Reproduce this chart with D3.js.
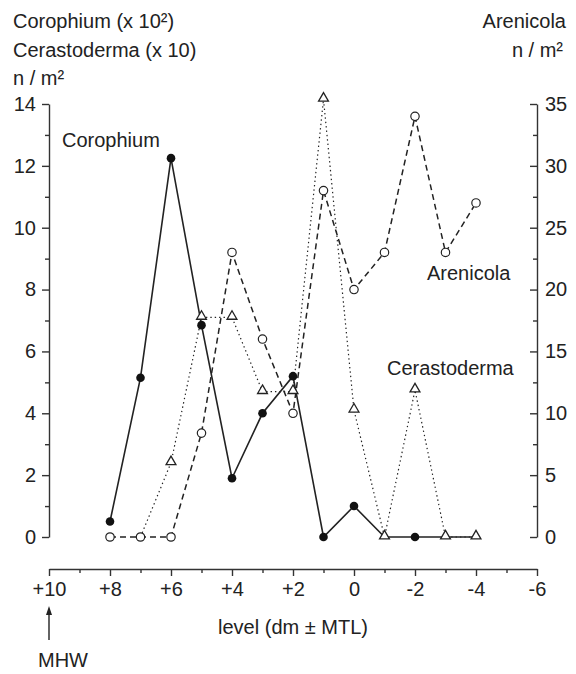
<!DOCTYPE html>
<html lang="en">
  <head>
    <meta charset="UTF-8" />
    <title>Corophium, Cerastoderma and Arenicola along the shore</title>
    <script src="https://d3js.org/d3.v7.min.js"></script>
    <style>
      body {
        margin: 0;
        background: #fff;
      }
      svg text {
        font-family: "Liberation Sans", Arial, Helvetica, sans-serif;
        font-size: 20px;
        fill: #222;
      }
      .axis path,
      .axis line {
        stroke: #333;
        stroke-width: 1.4px;
      }
      .axis text {
        font-size: 20px;
      }
    </style>
  </head>
  <body>
    <svg width="576" height="674"></svg>

    <script>
      // level in dm relative to mean tide level
      const levels = [8, 7, 6, 5, 4, 3, 2, 1, 0, -1, -2, -3, -4];
      // left axis: Corophium (x 100) and Cerastoderma (x 10), n/m2
      const corophium = [0.5, 5.15, 12.25, 6.85, 1.9, 4.0, 5.2, 0, 1.0, 0, 0, 0, 0];
      const cerastoderma = [null, 0, 2.4, 7.1, 7.1, 4.7, 4.7, 14.15, 4.1, 0, 4.75, 0, 0];
      // right axis: Arenicola, n/m2
      const arenicola = [0, 0, 0, 8.4, 23, 16, 10, 28, 20, 23, 34, 23, 27];

      const xTicks = [10, 8, 6, 4, 2, 0, -2, -4, -6];
      const leftTicks = [0, 2, 4, 6, 8, 10, 12, 14];
      const rightTicks = [0, 5, 10, 15, 20, 25, 30, 35];

      const svg = d3.select("svg");

      const x = d3.scaleLinear().domain([10, -6]).range([49, 537]);
      const yL = d3.scaleLinear().domain([0, 14]).range([537, 104]);
      const yR = d3.scaleLinear().domain([0, 35]).range([537, 104]);

      const fmtLevel = (d) => (d > 0 ? "+" + d : String(d));

      // x axis, drawn a bit below the plot
      const xAxisG = svg
        .append("g")
        .attr("class", "axis")
        .attr("transform", "translate(0,569)");
      xAxisG.call(
        d3
          .axisBottom(x)
          .tickValues(xTicks)
          .tickFormat(fmtLevel)
          .tickSize(7)
          .tickSizeOuter(0)
          .tickPadding(6)
      );
      xAxisG
        .append("g")
        .call(
          d3
            .axisBottom(x)
            .tickValues(d3.range(9, -6, -2))
            .tickFormat("")
            .tickSize(4)
        )
        .select(".domain")
        .remove();

      // left axis
      const leftG = svg
        .append("g")
        .attr("class", "axis")
        .attr("transform", "translate(49,0)");
      leftG.call(
        d3
          .axisLeft(yL)
          .tickValues(leftTicks)
          .tickSize(7)
          .tickSizeOuter(0)
          .tickPadding(6)
      );
      leftG
        .append("g")
        .call(
          d3
            .axisLeft(yL)
            .tickValues(d3.range(1, 14, 2))
            .tickFormat("")
            .tickSize(4)
        )
        .select(".domain")
        .remove();

      // right axis, ticks pointing inwards
      const rightG = svg
        .append("g")
        .attr("class", "axis")
        .attr("transform", "translate(537,0)");
      rightG.call(
        d3
          .axisRight(yR)
          .tickValues(rightTicks)
          .tickSize(-7)
          .tickSizeOuter(0)
          .tickPadding(8)
      );
      rightG
        .append("g")
        .call(
          d3
            .axisRight(yR)
            .tickValues(d3.range(2.5, 35, 5))
            .tickFormat("")
            .tickSize(-4)
        )
        .select(".domain")
        .remove();

      // series
      const rows = levels.map((lv, i) => ({
        level: lv,
        coro: corophium[i],
        cera: cerastoderma[i],
        aren: arenicola[i],
      }));

      const line = (key, scale) =>
        d3
          .line()
          .defined((d) => d[key] != null)
          .x((d) => x(d.level))
          .y((d) => scale(d[key]));

      svg
        .append("path")
        .datum(rows)
        .attr("fill", "none")
        .attr("stroke", "#222")
        .attr("stroke-width", 1.2)
        .attr("stroke-dasharray", "1.4,3")
        .attr("d", line("cera", yL));

      svg
        .append("path")
        .datum(rows)
        .attr("fill", "none")
        .attr("stroke", "#222")
        .attr("stroke-width", 1.5)
        .attr("stroke-dasharray", "6,4")
        .attr("d", line("aren", yR));

      svg
        .append("path")
        .datum(rows)
        .attr("fill", "none")
        .attr("stroke", "#222")
        .attr("stroke-width", 1.6)
        .attr("d", line("coro", yL));

      // a marker is left out when a later one sits on the same spot
      const same = (a, b) => a != null && b != null && Math.abs(a - b) < 2;

      svg
        .append("g")
        .selectAll("circle")
        .data(rows.filter((d) => !(d.cera != null && same(yL(d.coro), yL(d.cera)))))
        .join("circle")
        .attr("cx", (d) => x(d.level))
        .attr("cy", (d) => yL(d.coro))
        .attr("r", 4.3)
        .attr("fill", "#111");

      svg
        .append("g")
        .selectAll("path")
        .data(rows.filter((d) => d.cera != null && !same(yL(d.cera), yR(d.aren))))
        .join("path")
        .attr("transform", (d) => `translate(${x(d.level)},${yL(d.cera) - 1})`)
        .attr("d", d3.symbol(d3.symbolTriangle, 42))
        .attr("fill", "#fff")
        .attr("stroke", "#222")
        .attr("stroke-width", 1.3);

      svg
        .append("g")
        .selectAll("circle")
        .data(rows)
        .join("circle")
        .attr("cx", (d) => x(d.level))
        .attr("cy", (d) => yR(d.aren))
        .attr("r", 4.2)
        .attr("fill", "#fff")
        .attr("stroke", "#222")
        .attr("stroke-width", 1.2);

      // axis titles
      const addText = (tx, ty, str, anchor) =>
        svg
          .append("text")
          .attr("x", tx)
          .attr("y", ty)
          .attr("text-anchor", anchor || "start")
          .text(str);

      addText(13, 28, "Corophium (x 10²)");
      addText(13, 57, "Cerastoderma (x 10)");
      addText(13, 85, "n / m²");
      addText(566, 28, "Arenicola", "end");
      addText(563, 57, "n / m²", "end");

      addText(293, 634, "level (dm ± MTL)", "middle");

      // series labels inside the plot
      addText(62, 147, "Corophium");
      addText(427, 280, "Arenicola");
      addText(387, 375, "Cerastoderma");

      // MHW marker under +10
      svg
        .append("line")
        .attr("x1", x(10))
        .attr("x2", x(10))
        .attr("y1", 640)
        .attr("y2", 612)
        .attr("stroke", "#222")
        .attr("stroke-width", 1.4);
      svg
        .append("path")
        .attr(
          "d",
          `M${x(10)},606 L${x(10) - 3},615 L${x(10) + 3},615 Z`
        )
        .attr("fill", "#222");
      addText(38, 667, "MHW");
    </script>
  </body>
</html>
